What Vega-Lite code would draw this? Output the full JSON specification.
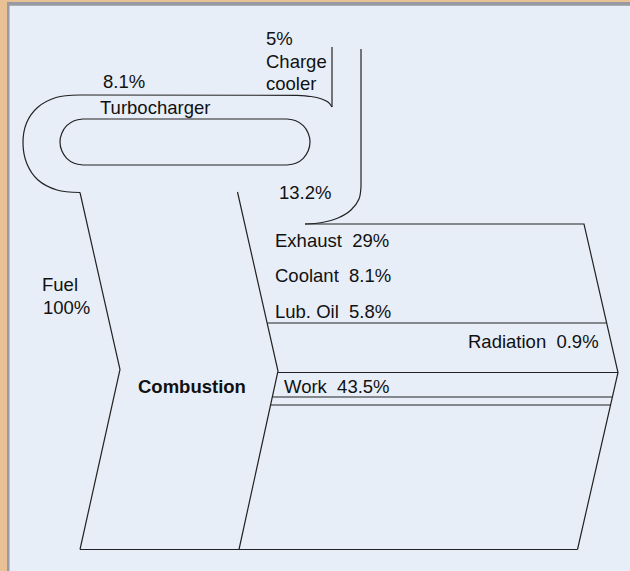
{
  "$schema": "https://vega.github.io/schema/vega-lite/v6.json",
  "width": 630,
  "height": 571,
  "autosize": {"type": "fit", "contains": "padding"},
  "padding": {"left": 7, "top": 2, "right": 0, "bottom": 0},
  "background": "#eac095",
  "config": {
    "view": {"fill": "#e7eef8", "stroke": null},
    "text": {"font": "Liberation Sans", "fontSize": 18.5, "color": "#111111", "align": "left", "baseline": "alphabetic"}
  },
  "datasets": {
    "straight": [
      {"p": "fuelLeft", "i": 0, "x": 80, "y": 192.5},
      {"p": "fuelLeft", "i": 1, "x": 120, "y": 369.5},
      {"p": "fuelLeft", "i": 2, "x": 80, "y": 549.5},
      {"p": "combRight", "i": 0, "x": 237.5, "y": 192},
      {"p": "combRight", "i": 1, "x": 278, "y": 371},
      {"p": "combRight", "i": 2, "x": 239, "y": 549.5},
      {"p": "bottom", "i": 0, "x": 80, "y": 549.5},
      {"p": "bottom", "i": 1, "x": 577.5, "y": 549.5},
      {"p": "outerTop", "i": 0, "x": 80, "y": 95},
      {"p": "outerTop", "i": 1, "x": 297, "y": 95.3},
      {"p": "chargeL", "i": 0, "x": 332, "y": 107},
      {"p": "chargeL", "i": 1, "x": 332, "y": 47},
      {"p": "chargeR", "i": 0, "x": 361, "y": 49},
      {"p": "chargeR", "i": 1, "x": 361, "y": 186},
      {"p": "exhaust", "i": 0, "x": 305, "y": 224},
      {"p": "exhaust", "i": 1, "x": 584, "y": 224},
      {"p": "exhaust", "i": 2, "x": 618, "y": 372.5},
      {"p": "exhaust", "i": 3, "x": 577.5, "y": 549.5},
      {"p": "lub", "i": 0, "x": 267.5, "y": 323},
      {"p": "lub", "i": 1, "x": 606.5, "y": 323},
      {"p": "workTop", "i": 0, "x": 278, "y": 372.5},
      {"p": "workTop", "i": 1, "x": 618, "y": 372.5},
      {"p": "work2", "i": 0, "x": 272.5, "y": 397},
      {"p": "work2", "i": 1, "x": 612.4, "y": 397},
      {"p": "work3", "i": 0, "x": 270.8, "y": 405},
      {"p": "work3", "i": 1, "x": 610.6, "y": 405},
      {"p": "innerTop", "i": 0, "x": 83, "y": 119},
      {"p": "innerTop", "i": 1, "x": 287, "y": 119},
      {"p": "innerBot", "i": 0, "x": 83, "y": 165},
      {"p": "innerBot", "i": 1, "x": 287, "y": 165}
    ],
    "curves": [
      {"p": "outerArc", "i": 0, "x": 80, "y": 192.5},
      {"p": "outerArc", "i": 1, "x": 57, "y": 190},
      {"p": "outerArc", "i": 2, "x": 38, "y": 180},
      {"p": "outerArc", "i": 3, "x": 27, "y": 164},
      {"p": "outerArc", "i": 4, "x": 23, "y": 143.5},
      {"p": "outerArc", "i": 5, "x": 26.5, "y": 123},
      {"p": "outerArc", "i": 6, "x": 37.5, "y": 107.5},
      {"p": "outerArc", "i": 7, "x": 56, "y": 97.5},
      {"p": "outerArc", "i": 8, "x": 80, "y": 95},
      {"p": "chargeCurve", "i": 0, "x": 297, "y": 95.3},
      {"p": "chargeCurve", "i": 1, "x": 311, "y": 96.5},
      {"p": "chargeCurve", "i": 2, "x": 321, "y": 98.7},
      {"p": "chargeCurve", "i": 3, "x": 328, "y": 102},
      {"p": "chargeCurve", "i": 4, "x": 332, "y": 107},
      {"p": "exhaustCurve", "i": 0, "x": 361, "y": 186},
      {"p": "exhaustCurve", "i": 1, "x": 359, "y": 199},
      {"p": "exhaustCurve", "i": 2, "x": 351, "y": 210},
      {"p": "exhaustCurve", "i": 3, "x": 338, "y": 218},
      {"p": "exhaustCurve", "i": 4, "x": 322, "y": 222.5},
      {"p": "exhaustCurve", "i": 5, "x": 305, "y": 224},
      {"p": "innerLeft", "i": 0, "x": 83, "y": 119},
      {"p": "innerLeft", "i": 1, "x": 74.2, "y": 120.8},
      {"p": "innerLeft", "i": 2, "x": 66.7, "y": 125.7},
      {"p": "innerLeft", "i": 3, "x": 61.8, "y": 133.2},
      {"p": "innerLeft", "i": 4, "x": 60, "y": 142},
      {"p": "innerLeft", "i": 5, "x": 61.8, "y": 150.8},
      {"p": "innerLeft", "i": 6, "x": 66.7, "y": 158.3},
      {"p": "innerLeft", "i": 7, "x": 74.2, "y": 163.2},
      {"p": "innerLeft", "i": 8, "x": 83, "y": 165},
      {"p": "innerRight", "i": 0, "x": 287, "y": 165},
      {"p": "innerRight", "i": 1, "x": 295.8, "y": 163.2},
      {"p": "innerRight", "i": 2, "x": 303.3, "y": 158.3},
      {"p": "innerRight", "i": 3, "x": 308.2, "y": 150.8},
      {"p": "innerRight", "i": 4, "x": 310, "y": 142},
      {"p": "innerRight", "i": 5, "x": 308.2, "y": 133.2},
      {"p": "innerRight", "i": 6, "x": 303.3, "y": 125.7},
      {"p": "innerRight", "i": 7, "x": 295.8, "y": 120.8},
      {"p": "innerRight", "i": 8, "x": 287, "y": 119}
    ],
    "labels": [
      {"t": "5%", "x": 266, "y": 44.5},
      {"t": "Charge", "x": 266, "y": 67.5},
      {"t": "cooler", "x": 266, "y": 89.5},
      {"t": "8.1%", "x": 103, "y": 87.5},
      {"t": "Turbocharger", "x": 100, "y": 113.5},
      {"t": "13.2%", "x": 279, "y": 199},
      {"t": "Fuel", "x": 42, "y": 290.5},
      {"t": "100%", "x": 43, "y": 314},
      {"t": "Exhaust\u00a0 29%", "x": 275, "y": 246.5},
      {"t": "Coolant\u00a0 8.1%", "x": 275, "y": 281.5},
      {"t": "Lub. Oil\u00a0 5.8%", "x": 275, "y": 318},
      {"t": "Radiation\u00a0 0.9%", "x": 468, "y": 348},
      {"t": "Work\u00a0 43.5%", "x": 284, "y": 392.5}
    ],
    "stage": [
      {"t": "Combustion", "x": 138, "y": 393}
    ]
  },
  "layer": [
    {
      "data": {"values": [{}]},
      "mark": {"type": "rect", "color": "#979aa0"},
      "encoding": {
        "x": {"datum": 7, "type": "quantitative", "scale": {"domain": [7, 630], "nice": false, "zero": false}, "axis": null},
        "x2": {"datum": 9.5},
        "y": {"datum": 2, "type": "quantitative", "scale": {"domain": [2, 571], "nice": false, "zero": false, "reverse": true}, "axis": null},
        "y2": {"datum": 571}
      }
    },
    {
      "data": {"values": [{}]},
      "mark": {"type": "rect", "color": "#979aa0"},
      "encoding": {
        "x": {"datum": 7, "type": "quantitative"},
        "x2": {"datum": 630},
        "y": {"datum": 2, "type": "quantitative"},
        "y2": {"datum": 5.7}
      }
    },
    {
      "data": {"name": "straight"},
      "mark": {"type": "line", "color": "#222222", "strokeWidth": 1.2, "interpolate": "linear"},
      "encoding": {
        "x": {"field": "x", "type": "quantitative"},
        "y": {"field": "y", "type": "quantitative"},
        "detail": {"field": "p"},
        "order": {"field": "i"}
      }
    },
    {
      "data": {"name": "curves"},
      "mark": {"type": "line", "color": "#222222", "strokeWidth": 1.2, "interpolate": "catmull-rom"},
      "encoding": {
        "x": {"field": "x", "type": "quantitative"},
        "y": {"field": "y", "type": "quantitative"},
        "detail": {"field": "p"},
        "order": {"field": "i"}
      }
    },
    {
      "data": {"name": "labels"},
      "mark": {"type": "text"},
      "encoding": {
        "x": {"field": "x", "type": "quantitative"},
        "y": {"field": "y", "type": "quantitative"},
        "text": {"field": "t"}
      }
    },
    {
      "data": {"name": "stage"},
      "mark": {"type": "text", "fontWeight": "bold"},
      "encoding": {
        "x": {"field": "x", "type": "quantitative"},
        "y": {"field": "y", "type": "quantitative"},
        "text": {"field": "t"}
      }
    }
  ]
}
